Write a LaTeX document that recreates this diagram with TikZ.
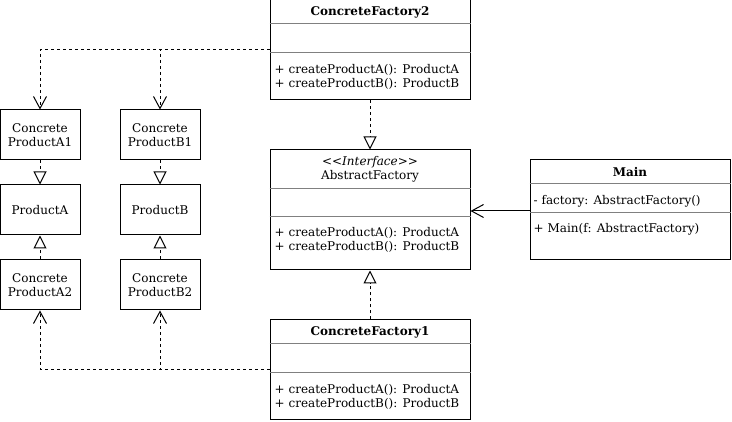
\documentclass[tikz,border=0pt]{standalone}
\usepackage{fontspec}
\setmainfont{DejaVu Serif}
\usetikzlibrary{arrows.meta}
\begin{document}
\begin{tikzpicture}[x=1pt,y=-1pt,
  box/.style={draw, line width=1pt, rectangle, inner sep=0pt},
  divider/.style={draw=black!50, line width=1pt},
  txt/.style={font=\fontsize{12}{14}\selectfont, inner sep=0pt, align=center},
  mtxt/.style={font=\fontsize{12}{14}\selectfont, inner sep=0pt, anchor=west},
  ttl/.style={font=\fontsize{12}{14}\selectfont\bfseries, inner sep=0pt},
  realize/.style={line width=1pt, dash pattern=on 3pt off 3pt,
    -{Triangle[open, length=13pt, width=13pt, line width=1pt, fill=white]}},
  depend/.style={line width=1pt, dash pattern=on 3pt off 3pt,
    -{Straight Barb[length=12pt, width=13pt, line width=1pt]}},
  assoc/.style={line width=1pt,
    -{Straight Barb[length=12pt, width=13pt, line width=1pt]}}
]
\useasboundingbox[fill=white] (0,0) rectangle (732,422);

% ConcreteFactory2
\node[box, minimum width=200pt, minimum height=100pt] (cf2) at (370,50) {};
\draw[divider] ([yshift=-24pt]cf2.north west) -- ([yshift=-24pt]cf2.north east);
\draw[divider] ([yshift=-53pt]cf2.north west) -- ([yshift=-53pt]cf2.north east);
\node[ttl] (cf2t) at ([yshift=-13pt]cf2.north) {ConcreteFactory2};
\node[mtxt] (cf2a) at ([xshift=5pt,yshift=-70.5pt]cf2.north west) {+ createProductA(): ProductA};
\node[mtxt] (cf2b) at ([xshift=5pt,yshift=-84pt]cf2.north west) {+ createProductB(): ProductB};

% AbstractFactory
\node[box, minimum width=200pt, minimum height=120pt] (af) at (370,210) {};
\draw[divider] ([yshift=-39pt]af.north west) -- ([yshift=-39pt]af.north east);
\draw[divider] ([yshift=-67pt]af.north west) -- ([yshift=-67pt]af.north east);
\node[txt] (afs) at ([yshift=-13pt]af.north) {\itshape <\kern0pt<Interface>\kern0pt>};
\node[txt] (aft) at ([yshift=-27pt]af.north) {AbstractFactory};
\node[mtxt] (afa) at ([xshift=5pt,yshift=-83.5pt]af.north west) {+ createProductA(): ProductA};
\node[mtxt] (afb) at ([xshift=5pt,yshift=-97pt]af.north west) {+ createProductB(): ProductB};

% ConcreteFactory1
\node[box, minimum width=200pt, minimum height=100pt] (cf1) at (370,370) {};
\draw[divider] ([yshift=-24pt]cf1.north west) -- ([yshift=-24pt]cf1.north east);
\draw[divider] ([yshift=-53pt]cf1.north west) -- ([yshift=-53pt]cf1.north east);
\node[ttl] (cf1t) at ([yshift=-13pt]cf1.north) {ConcreteFactory1};
\node[mtxt] (cf1a) at ([xshift=5pt,yshift=-70.5pt]cf1.north west) {+ createProductA(): ProductA};
\node[mtxt] (cf1b) at ([xshift=5pt,yshift=-84pt]cf1.north west) {+ createProductB(): ProductB};

% Main
\node[box, minimum width=200pt, minimum height=100pt] (main) at (630,210) {};
\draw[divider] ([yshift=-24pt]main.north west) -- ([yshift=-24pt]main.north east);
\draw[divider] ([yshift=-53pt]main.north west) -- ([yshift=-53pt]main.north east);
\node[ttl] (maint) at ([yshift=-13pt]main.north) {Main};
\node[mtxt] (mainf) at ([xshift=4pt,yshift=-41.5pt]main.north west) {- factory: AbstractFactory()};
\node[mtxt] (mainm) at ([xshift=4pt,yshift=-70pt]main.north west) {+ Main(f: AbstractFactory)};

% Products
\node[box, minimum width=80pt, minimum height=50pt, txt] (a1) at (40,135) {Concrete\\ProductA1};
\node[box, minimum width=80pt, minimum height=50pt, txt] (pa) at (40,210) {ProductA};
\node[box, minimum width=80pt, minimum height=50pt, txt] (a2) at (40,285) {Concrete\\ProductA2};
\node[box, minimum width=80pt, minimum height=50pt, txt] (b1) at (160,135) {Concrete\\ProductB1};
\node[box, minimum width=80pt, minimum height=50pt, txt] (pb) at (160,210) {ProductB};
\node[box, minimum width=80pt, minimum height=50pt, txt] (b2) at (160,285) {Concrete\\ProductB2};

% Realizations
\draw[realize] (cf2.south) -- (af.north);
\draw[realize] (cf1.north) -- (af.south);
\draw[realize] (a1.south) -- (pa.north);
\draw[realize] (a2.north) -- (pa.south);
\draw[realize] (b1.south) -- (pb.north);
\draw[realize] (b2.north) -- (pb.south);

% Dependencies
\coordinate (cf2d) at ([yshift=-50pt]cf2.north west);
\coordinate (cf1d) at ([yshift=-50pt]cf1.north west);
\draw[depend] (cf2d) -| (a1.north);
\draw[depend] (cf2d) -| (b1.north);
\draw[depend] (cf1d) -| (a2.south);
\draw[depend] (cf1d) -| (b2.south);

% Association
\draw[assoc] ([yshift=-1pt]main.west) -- ([yshift=-1pt]main.west -| af.east);
\end{tikzpicture}
\end{document}
